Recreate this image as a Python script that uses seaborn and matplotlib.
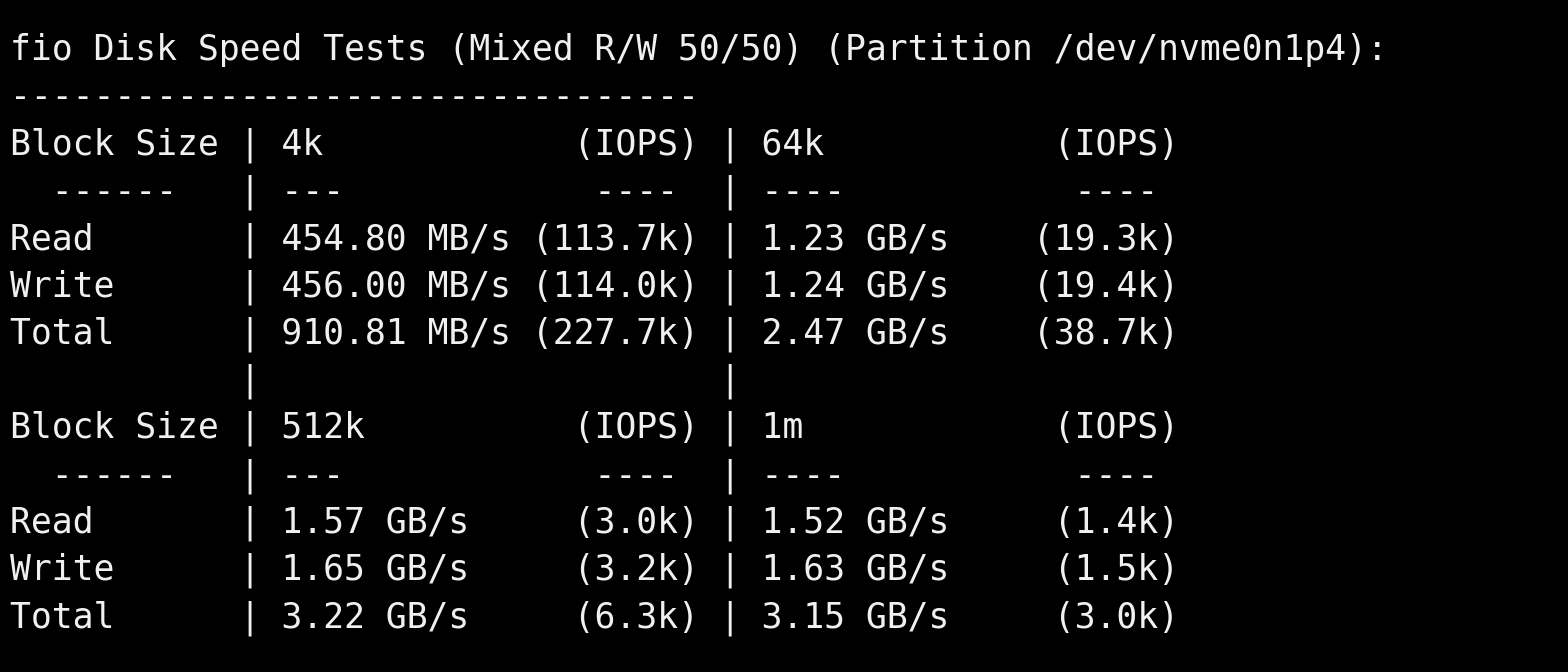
import matplotlib
matplotlib.use("Agg")
import matplotlib.pyplot as plt
import seaborn as sns

# fio results as printed by the benchmark script
title = "fio Disk Speed Tests (Mixed R/W 50/50) (Partition /dev/nvme0n1p4):"
block_sizes = [["4k", "64k"], ["512k", "1m"]]
row_names = ["Read", "Write", "Total"]
speeds = [
    [["454.80 MB/s", "456.00 MB/s", "910.81 MB/s"], ["1.23 GB/s", "1.24 GB/s", "2.47 GB/s"]],
    [["1.57 GB/s", "1.65 GB/s", "3.22 GB/s"], ["1.52 GB/s", "1.63 GB/s", "3.15 GB/s"]],
]
iops = [
    [["(113.7k)", "(114.0k)", "(227.7k)"], ["(19.3k)", "(19.4k)", "(38.7k)"]],
    [["(3.0k)", "(3.2k)", "(6.3k)"], ["(1.4k)", "(1.5k)", "(3.0k)"]],
]

W, H = 1568, 672
sns.set_theme(style="dark")
plt.rcParams["font.family"] = ["DejaVu Sans Mono"]

lines = [title, "-" * 33]
for t in range(len(block_sizes)):
    b1, b2 = block_sizes[t]
    lines.append("%-10s | %-11s %8s | %-11s %8s" % ("Block Size", b1, "(IOPS)", b2, "(IOPS)"))
    lines.append("  ------   | ---            ----  | ----           ----")
    for r, name in enumerate(row_names):
        lines.append("%-10s | %-11s %8s | %-11s %8s" % (
            name, speeds[t][0][r], iops[t][0][r], speeds[t][1][r], iops[t][1][r]))
    if t == 0:
        lines.append("           |                      |")

fig = plt.figure(figsize=(W / 100, H / 100), dpi=100)
fig.patch.set_facecolor("black")
for i, line in enumerate(lines):
    y = 60 + 47.25 * i
    fig.text(10 / W, 1 - y / H, line, color="#f0f0f0", fontsize=25,
             ha="left", va="baseline")

fig.savefig("out.png", dpi=100, facecolor="black")
